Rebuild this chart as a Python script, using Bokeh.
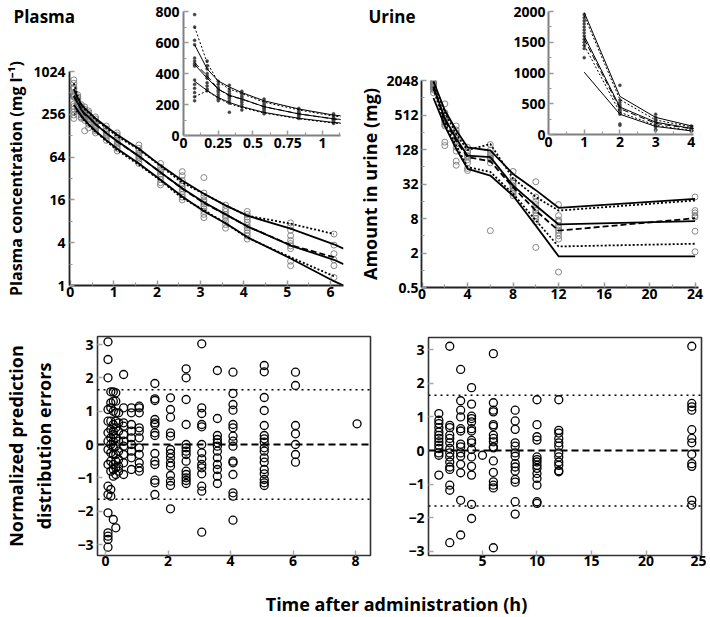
from bokeh.plotting import figure
from bokeh.models import GridBox, FixedTicker, Label, Span, Range1d
from bokeh.embed import file_html
from bokeh.resources import INLINE

FONT = "Open Sans"

# ---------------- Plasma data ----------------
plasma_times = [0.08, 0.17, 0.25, 0.33, 0.42, 0.58, 0.83, 1.08, 1.58, 2.08, 2.58, 3.08, 3.58, 4.08, 5.08, 6.08]
plasma_conc = [
    [780, 700, 614, 586, 500, 480, 465, 455, 448, 358, 330, 305, 277, 250, 224],
    [480, 450, 430, 400, 385, 370, 340, 320, 300, 288],
    [350, 330, 310, 300, 290, 280, 265, 250, 235, 225],
    [325, 300, 285, 270, 260, 250, 240, 225, 210, 150],
    [285, 270, 255, 245, 235, 225, 215, 200, 185, 165],
    [235, 220, 205, 195, 185, 178, 170, 160, 150, 140],
    [175, 160, 150, 142, 135, 128, 120, 110],
    [140, 130, 120, 112, 105, 98, 92, 85, 78],
    [95, 85, 78, 72, 68, 64, 60, 56, 52],
    [52, 46, 42, 40, 37, 34, 31, 28, 26],
    [40, 35, 30, 27, 25, 23, 21, 19, 17.5, 16],
    [33, 20, 18, 16, 15, 14, 13, 12, 11, 10, 9],
    [13.5, 12, 11, 10, 9.5, 9, 8, 7.2, 6.4],
    [11, 10, 9.2, 8.5, 7.8, 7, 6.5, 6, 5.5, 5, 4.5],
    [7.6, 6.8, 6, 5, 4.3, 3.9, 3.6, 3.3, 2.2, 1.9],
    [5.3, 3.7, 2.8, 2.3, 1.9, 1.3],
]
plasma_pred_times = [0.08, 0.17, 0.25, 0.33, 0.42, 0.58, 0.83, 1.08, 1.58, 2.08, 2.58, 3.08, 3.58, 4.08, 5.08, 6.08, 6.3]
plasma_pred_p95 = [585, 430, 352, 313, 277, 224, 171, 132, 84, 49, 30, 19.5, 13.4, 9.6, 6.3, 3.8, 3.3]
plasma_pred_p50 = [458, 370, 299, 260, 235, 186, 139, 108, 66, 39, 23.4, 14.8, 10, 6.8, 3.65, 2.3, 2.0]
plasma_pred_p05 = [350, 290, 245, 213, 186, 149, 111, 84, 52, 30.7, 17.9, 11.1, 7.5, 4.8, 2.4, 1.15, 1.0]
plasma_obs_p95 = [700, 470, 345, 300, 270, 215, 165, 125, 82, 48, 28, 19.5, 13.4, 9.6, 7.4, 5.3]
plasma_obs_p50 = [470, 385, 300, 255, 235, 185, 140, 106, 66, 39, 23, 14.5, 10, 6.8, 3.7, 2.5]
plasma_obs_p05 = [250, 288, 240, 205, 180, 145, 108, 80, 50, 30, 17, 11.5, 7.5, 4.7, 2.5, 1.35]

# ---------------- Urine data ----------------
urine_times = [1, 2, 3, 4, 6, 8, 10, 12, 24]
urine_amount = [
    [1950, 1900, 1850, 1800, 1750, 1700, 1650, 1600, 1550, 1500, 1450, 1400, 1250],
    [800, 560, 520, 480, 450, 420, 400, 380, 350, 330, 172, 150],
    [330, 280, 250, 220, 200, 180, 160, 140, 120, 80, 68],
    [140, 120, 110, 100, 95, 85, 75, 60, 55],
    [156, 125, 110, 100, 95, 90, 85, 75, 4.9],
    [53, 42, 36, 33, 30, 28, 26, 24, 22, 20],
    [35, 19, 16, 14, 12, 11, 10, 9, 8, 7, 2.5],
    [14, 9, 7.5, 7, 6, 5.5, 5, 4.5, 4, 3.5, 0.93],
    [19, 11, 10, 9, 8.5, 4.8, 2.1],
]
urine_pred_p95 = [1984, 619, 278, 140, 123, 48, 25, 12.3, 17.6]
urine_pred_p50 = [1600, 446, 200, 100, 94, 30, 13.5, 6.3, 7.2]
urine_pred_p05 = [1013, 330, 131, 59, 45, 20, 6, 1.75, 1.75]
urine_obs_p95 = [1930, 567, 236, 125, 160, 40, 19, 11, 16.5]
urine_obs_p50 = [1550, 420, 180, 94, 80, 28, 11, 4.9, 8.1]
urine_obs_p05 = [1450, 360, 150, 63, 52, 21.6, 7.4, 2.6, 2.9]

# ---------------- NPDE data ----------------
npde_plasma_times = [0.08, 0.17, 0.25, 0.33, 0.42, 0.58, 0.83, 1.08, 1.58, 2.08, 2.58, 3.08, 3.58, 4.08, 5.08, 6.08, 8.05]
npde_plasma = [
    [3.08, 2.55, 2.0, 1.05, 0.7, 0.35, 0.1, -0.15, -0.6, -1.25, -1.5, -2.05, -2.65, -2.75, -2.85, -3.08],
    [1.58, 1.25, 1.1, 0.7, 0.45, 0.2, 0.0, -0.25, -0.5, -0.8, -1.35, -1.55],
    [1.58, 1.3, 1.0, 0.6, 0.4, 0.3, 0.1, -0.1, -0.3, -0.6, -0.75, -0.95, -2.25],
    [1.55, 1.3, 0.95, 0.7, 0.5, 0.2, -0.05, -0.3, -0.5, -0.7, -0.9, -2.5],
    [0.95, 0.65, 0.4, 0.1, -0.2, -0.45, -0.65, -0.8],
    [2.1, 1.1, 0.65, 0.55, 0.3, 0.1, -0.05, -0.3, -0.55, -0.9],
    [1.1, 0.95, 0.6, 0.4, 0.2, 0.0, -0.2, -0.4, -0.75],
    [1.15, 1.1, 0.95, 0.5, 0.4, 0.2, -0.1, -0.3, -0.55, -0.7, -0.8],
    [1.83, 1.37, 1.32, 0.75, 0.65, 0.6, 0.35, 0.27, -0.27, -0.5, -0.6, -1.07, -1.15, -1.5],
    [1.4, 1.05, 0.82, 0.35, 0.25, -0.15, -0.27, -0.4, -0.55, -0.65, -0.93, -1.1, -1.23, -1.93],
    [2.27, 2.0, 1.35, 0.6, 0.0, -0.1, -0.2, -0.3, -0.5, -0.8, -0.9, -1.0, -1.08, -1.17],
    [3.02, 1.1, 0.93, 0.6, 0.53, 0.0, -0.25, -0.43, -0.6, -0.7, -0.88, -1.25, -1.4, -2.63],
    [2.22, 0.78, 0.27, 0.15, 0.05, -0.05, -0.2, -0.4, -0.6, -0.75, -0.95, -1.17],
    [2.17, 1.53, 1.2, 1.03, 0.6, 0.5, 0.25, 0.1, -0.05, -0.5, -0.55, -0.9, -1.45, -1.55, -2.27],
    [2.37, 2.18, 1.41, 1.02, 0.57, 0.27, 0.17, 0.07, -0.1, -0.2, -0.4, -0.53, -0.75, -0.88, -1.05, -1.15, -1.23],
    [2.17, 1.77, 0.57, 0.32, 0.0, -0.3, -0.53],
    [0.62],
]
npde_urine_times = [1, 2, 3, 4, 5, 6, 8, 10, 12, 24.2]
npde_urine = [
    [1.1, 0.9, 0.8, 0.68, 0.55, 0.45, 0.36, 0.26, 0.16, 0.06, -0.07, -0.14, -0.73],
    [3.1, 0.75, 0.68, 0.46, 0.36, 0.23, 0.06, -0.07, -0.19, -0.34, -0.49, -0.56, -1.03, -1.18, -2.74],
    [2.41, 1.48, 1.2, 1.0, 0.65, 0.58, 0.19, 0.11, -0.07, -0.17, -0.41, -0.66, -1.48, -2.51],
    [1.87, 1.38, 1.02, 0.95, 0.85, 0.65, 0.58, 0.3, 0.23, 0.03, -0.19, -0.47, -0.73, -1.6, -2.02],
    [-0.14],
    [2.88, 1.42, 1.2, 1.15, 0.77, 0.72, 0.46, 0.36, 0.26, 0.11, 0.08, -0.31, -0.65, -0.93, -1.03, -1.11, -2.89],
    [1.2, 0.88, 0.63, 0.23, 0.13, -0.07, -0.17, -0.39, -0.49, -0.61, -0.86, -0.94, -1.52, -1.89],
    [1.51, 0.77, 0.41, 0.31, -0.19, -0.27, -0.34, -0.44, -0.53, -0.68, -0.83, -1.03, -1.52, -1.57],
    [1.51, 0.6, 0.52, 0.36, 0.23, 0.13, -0.07, -0.19, -0.34, -0.44, -0.6, -0.63],
    [3.1, 1.4, 1.3, 1.2, 0.62, 0.36, 0.23, -0.11, -0.39, -0.47, -1.48, -1.62],
]
npde_limit = 1.645

# tick definitions
plasma_y_ticks = [1, 4, 16, 64, 256, 1024]
plasma_y_minor = [2, 8, 32, 128, 512]
plasma_x_ticks = [0, 1, 2, 3, 4, 5, 6]
plasma_x_minor = [0.5, 1.5, 2.5, 3.5, 4.5, 5.5]
urine_y_ticks = [0.5, 2, 8, 32, 128, 512, 2048]
urine_y_minor = [1, 4, 16, 64, 256, 1024]
urine_x_ticks = [0, 4, 8, 12, 16, 20, 24]
urine_x_minor = [2, 6, 10, 14, 18, 22]
pin_x_ticks = [0, 0.25, 0.5, 0.75, 1]
pin_x_minor = [0.125, 0.375, 0.625, 0.875, 1.125]
pin_y_ticks = [0, 200, 400, 600, 800]
pin_y_minor = [100, 300, 500, 700]
uin_x_ticks = [0, 1, 2, 3, 4]
uin_x_minor = [0.5, 1.5, 2.5, 3.5]
uin_y_ticks = [0, 500, 1000, 1500, 2000]
uin_y_minor = [250, 750, 1250, 1750]
npde_y_ticks = [-3, -2, -1, 0, 1, 2, 3]
npde_p_x_ticks = [0, 2, 4, 6, 8]
npde_u_x_ticks = [5, 10, 15, 20, 25]


def fmt(v):
    return ("%g" % v).replace("-", "\u2212")


def flatten(times, groups):
    xs, ys = [], []
    for t, g in zip(times, groups):
        for v in g:
            xs.append(t)
            ys.append(v)
    return xs, ys


def style_axis(ax, ticks, minor, standoff=4, tick_in=5, minor_in=3,
               line_color="#222222", line_width=1.8, tick_color="#9a9a9a"):
    ax.ticker = FixedTicker(ticks=ticks, minor_ticks=minor)
    ax.major_label_overrides = {t: fmt(t) for t in ticks}
    ax.major_label_text_font = FONT
    ax.major_label_text_font_style = "bold"
    ax.major_label_text_font_size = "14px"
    ax.major_label_text_color = "black"
    ax.major_label_standoff = standoff
    ax.major_tick_in = tick_in
    ax.major_tick_out = 0
    ax.minor_tick_in = minor_in
    ax.minor_tick_out = 0
    ax.major_tick_line_color = tick_color
    ax.minor_tick_line_color = tick_color
    ax.major_tick_line_width = 1.5
    ax.minor_tick_line_width = 1.2
    ax.axis_line_color = line_color
    ax.axis_line_width = line_width
    ax.axis_label_text_font = FONT
    ax.axis_label_text_font_style = "bold"
    ax.axis_label_text_font_size = "18px"
    ax.axis_label_text_color = "black"


def make_fig(w, h, xr, yr, borders, y_type="linear", transparent=False):
    l, r, t, b = borders
    p = figure(width=w, height=h, x_range=Range1d(*xr), y_range=Range1d(*yr),
               y_axis_type=y_type, output_backend="svg", toolbar_location=None,
               min_border_left=l, min_border_right=r, min_border_top=t, min_border_bottom=b)
    p.xgrid.visible = False
    p.ygrid.visible = False
    p.outline_line_color = None
    if transparent:
        p.background_fill_alpha = 0
        p.border_fill_alpha = 0
    return p


def text_fig(w, h, text, x, y, size, align):
    p = figure(width=w, height=h, x_range=Range1d(0, w), y_range=Range1d(0, h),
               output_backend="svg", toolbar_location=None,
               x_axis_location=None, y_axis_location=None, min_border=0)
    p.xgrid.visible = False
    p.ygrid.visible = False
    p.outline_line_color = None
    p.background_fill_alpha = 0
    p.border_fill_alpha = 0
    p.add_layout(Label(x=x, y=y, text=text, text_font=FONT, text_font_style="bold",
                       text_font_size=size, text_align=align, text_baseline="middle",
                       text_color="black"))
    return p


def draw_bands(p, tp, p95, p50, p05, to, o95, o50, o05, lw=1.8):
    p.line(tp, p95, line_color="black", line_width=lw)
    p.line(tp, p50, line_color="black", line_width=lw)
    p.line(tp, p05, line_color="black", line_width=lw)
    p.line(to, o95, line_color="black", line_width=lw, line_dash="2 2")
    p.line(to, o05, line_color="black", line_width=lw, line_dash="2 2")
    p.line(to, o50, line_color="black", line_width=lw, line_dash="6 3")


# ---------------- A: plasma main ----------------
pA = make_fig(350, 307, (-0.02, 6.3), (1, 1024), (69, 7, 71, 22), y_type="log", transparent=True)
px, py = flatten(plasma_times, plasma_conc)
pA.scatter(px, py, marker="circle", size=6, fill_color=None, line_color="#7a7a7a", line_width=0.9)
draw_bands(pA, plasma_pred_times, plasma_pred_p95, plasma_pred_p50, plasma_pred_p05,
           plasma_times, plasma_obs_p95, plasma_obs_p50, plasma_obs_p05)
style_axis(pA.xaxis[0], plasma_x_ticks, plasma_x_minor, standoff=1)
style_axis(pA.yaxis[0], plasma_y_ticks, plasma_y_minor, standoff=4)
pA.yaxis[0].axis_label = "Plasma concentration (mg l\u207b\u00b9)"
pA.yaxis[0].axis_label_standoff = 3
pA.yaxis[0].axis_label_text_font_size = "16px"

# ---------------- B: plasma inset ----------------
pB = make_fig(195, 158, (0, 1.13), (0, 800), (33, 5, 11, 23), transparent=True)
pB.scatter(px, py, marker="circle", size=3, fill_color="#444444", line_color="#444444", line_width=0.5)
draw_bands(pB, plasma_pred_times, plasma_pred_p95, plasma_pred_p50, plasma_pred_p05,
           plasma_times, plasma_obs_p95, plasma_obs_p50, plasma_obs_p05, lw=1.0)
style_axis(pB.xaxis[0], pin_x_ticks, pin_x_minor, standoff=2, line_color="#808080", line_width=2)
style_axis(pB.yaxis[0], pin_y_ticks, pin_y_minor, standoff=4, line_color="#808080", line_width=2)

# ---------------- C: urine main ----------------
pC = make_fig(351, 307, (-0.05, 24.3), (0.5, 2048), (63, 8, 80, 20), y_type="log", transparent=True)
ux, uy = flatten(urine_times, urine_amount)
pC.scatter(ux, uy, marker="circle", size=6, fill_color=None, line_color="#7a7a7a", line_width=0.9)
draw_bands(pC, urine_times, urine_pred_p95, urine_pred_p50, urine_pred_p05,
           urine_times, urine_obs_p95, urine_obs_p50, urine_obs_p05)
style_axis(pC.xaxis[0], urine_x_ticks, urine_x_minor, standoff=1)
style_axis(pC.yaxis[0], urine_y_ticks, urine_y_minor, standoff=3)
pC.yaxis[0].axis_label = "Amount in urine (mg)"
pC.yaxis[0].axis_label_standoff = 1

# ---------------- D: urine inset ----------------
pD = make_fig(190, 158, (0, 4.06), (0, 2000), (38, 7, 11, 24), transparent=True)
pD.scatter(ux, uy, marker="circle", size=3, fill_color="#444444", line_color="#444444", line_width=0.5)
draw_bands(pD, urine_times, urine_pred_p95, urine_pred_p50, urine_pred_p05,
           urine_times, urine_obs_p95, urine_obs_p50, urine_obs_p05, lw=1.0)
style_axis(pD.xaxis[0], uin_x_ticks, uin_x_minor, standoff=2, line_color="#808080", line_width=2)
style_axis(pD.yaxis[0], uin_y_ticks, uin_y_minor, standoff=3, line_color="#808080", line_width=2)


def npde_fig(w, h, xr, yr, borders, times, groups, xticks):
    p = make_fig(w, h, xr, yr, borders, transparent=True)
    p.outline_line_color = "#333333"
    p.outline_line_width = 1.6
    x, y = flatten(times, groups)
    p.scatter(x, y, marker="circle", size=8, fill_color=None, line_color="black", line_width=1.3)
    p.add_layout(Span(location=0, dimension="width", line_color="black", line_width=2, line_dash="7 4"))
    p.add_layout(Span(location=npde_limit, dimension="width", line_color="black", line_width=1.5, line_dash="2 4"))
    p.add_layout(Span(location=-npde_limit, dimension="width", line_color="black", line_width=1.5, line_dash="2 4"))
    style_axis(p.xaxis[0], xticks, [], standoff=0, tick_in=5, line_color=None, tick_color="#aaaaaa")
    style_axis(p.yaxis[0], npde_y_ticks, [], standoff=4, tick_in=5, line_color=None, tick_color="#aaaaaa")
    return p


# ---------------- E: plasma NPDE ----------------
pE = npde_fig(375, 283, (-0.256, 8.48), (-3.33, 3.24), (97, 5, 29, 35),
              npde_plasma_times, npde_plasma, npde_p_x_ticks)
pE.yaxis[0].axis_label = "Normalized prediction\ndistribution errors"
pE.yaxis[0].axis_label_standoff = 18

# ---------------- F: urine NPDE ----------------
pF = npde_fig(331, 283, (0.05, 25.09), (-3.12, 3.36), (53, 5, 30, 35),
              npde_urine_times, npde_urine, npde_u_x_ticks)

# ---------------- text strips ----------------
pG = text_fig(706, 26, "Time after administration (h)", 396, 13, "18px", "center")
pTA = text_fig(100, 30, "Plasma", 13, 14, "17px", "left")
pTC = text_fig(80, 30, "Urine", 8, 14, "17px", "left")

# Grid with zero-size separator tracks so that no two figures share a grid edge
# (prevents automatic alignment of plot frames).
col_sizes = [0, 0, 0, 100, 50, 195, 5, 5, 5, 15, 0, 65, 70, 190, 6, 0, 0]
row_sizes = [0, 0, 0, 0, 0, 30, 0, 128, 0, 149, 0, 0, 0, 283, 0, 0, 26]

layout = GridBox(
    children=[
        (pA, 0, 0, 10, 7),
        (pC, 2, 8, 9, 7),
        (pE, 12, 1, 2, 9),
        (pF, 13, 11, 2, 5),
        (pG, 16, 2, 1, 15),
        (pB, 1, 5, 7, 1),
        (pD, 3, 13, 6, 1),
        (pTA, 4, 3, 2, 1),
        (pTC, 5, 9, 2, 3),
    ],
    cols=["%dpx" % c for c in col_sizes],
    rows=["%dpx" % r for r in row_sizes],
    spacing=0,
)

open("out.html", "w").write(file_html(layout, INLINE))
